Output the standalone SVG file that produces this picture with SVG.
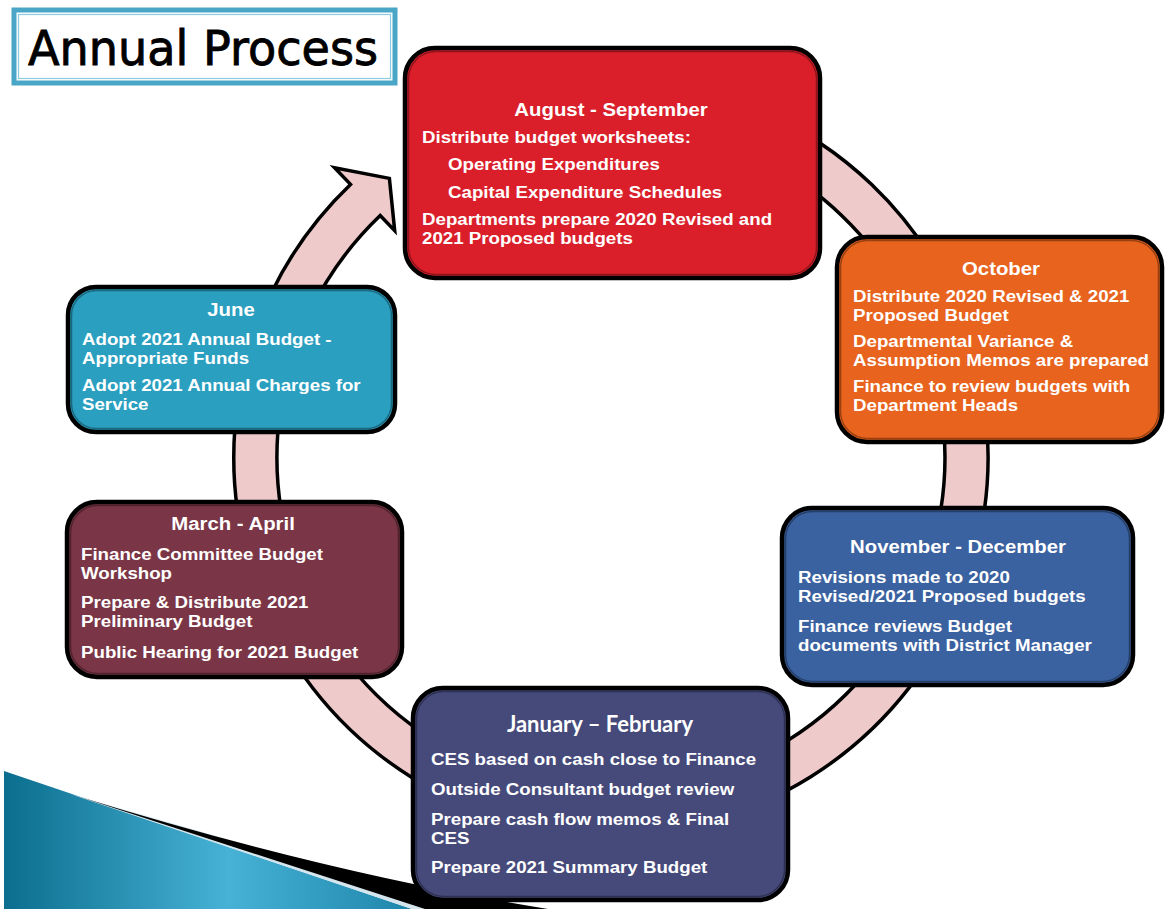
<svg xmlns="http://www.w3.org/2000/svg" width="1165" height="909" viewBox="0 0 1165 909">
<defs>
<style>
.box{stroke:#000;stroke-width:4.5}
.inner{fill:none;stroke:#000;stroke-opacity:.35;stroke-width:1.5}
.hd{font-family:"Liberation Sans",Arial,sans-serif;font-weight:bold;font-size:18.5px;fill:#fff;text-anchor:middle}
.bd{font-family:"Liberation Sans",Arial,sans-serif;font-weight:bold;font-size:17px;fill:#fff}
.ring{fill:#efcaca;stroke:#000;stroke-width:3.5;stroke-linejoin:miter}
</style>
<linearGradient id="teal" x1="0" y1="0" x2="1" y2="0">
<stop offset="0" stop-color="#0b6e8e"/>
<stop offset="0.55" stop-color="#47b2d6"/>
<stop offset="1" stop-color="#1e86aa"/>
</linearGradient>
</defs>
<rect width="1165" height="909" fill="#fff"/>

<g id="decoration">
<path d="M4,771 L412,909 L4,909 Z" fill="url(#teal)"/>
<path d="M70,794 L470,909 L412,909 Z" fill="#d4e5ed"/>
<path d="M80,797 Q330,874 548,909 L425,909 Z" fill="#000"/>
</g>

<g id="connectors">
<path class="ring" d="M482.1,102.7 A377,377 0 0 1 810.8,776.7 A377,377 0 0 1 350.5,184.4 L334.6,167.8 L389.4,178.4 L394.7,230.7 L380.2,215.5 A334,334 0 0 0 788,740.2 A334,334 0 0 0 496.8,143.1 Z"/>
</g>

<g id="title">
<rect x="14" y="10" width="381" height="73" fill="#fff" stroke="#4aa6c7" stroke-width="5"/>
<rect x="18.5" y="14.5" width="372" height="64" fill="none" stroke="#8ccbe0" stroke-width="1.2"/>
<text x="28" y="65" font-family="DejaVu Sans, sans-serif" font-size="48" fill="#000" stroke="#000" stroke-width="0.9" textLength="350" lengthAdjust="spacingAndGlyphs">Annual Process</text>
</g>

<g id="aug-sep">
<rect class="box" x="405" y="48" width="415" height="230" rx="30" fill="#da1f2b"/>
<rect class="inner" x="408.5" y="51.5" width="408" height="223" rx="27"/>
<text class="hd" transform="translate(611,116) scale(1.1,1)">August - September</text>
<text class="bd" transform="translate(422,143) scale(1.1,1)">Distribute budget worksheets:</text>
<text class="bd" transform="translate(448,170) scale(1.1,1)">Operating Expenditures</text>
<text class="bd" transform="translate(448,198) scale(1.1,1)">Capital Expenditure Schedules</text>
<text class="bd" transform="translate(422,225) scale(1.1,1)">Departments prepare 2020 Revised and</text>
<text class="bd" transform="translate(422,244) scale(1.1,1)">2021 Proposed budgets</text>
</g>

<g id="october">
<rect class="box" x="837" y="237" width="325" height="205" rx="30" fill="#e8631d"/>
<rect class="inner" x="840.5" y="240.5" width="318" height="198" rx="27"/>
<text class="hd" transform="translate(1001,275) scale(1.1,1)">October</text>
<text class="bd" transform="translate(853,302) scale(1.1,1)">Distribute 2020 Revised &amp; 2021</text>
<text class="bd" transform="translate(853,321) scale(1.1,1)">Proposed Budget</text>
<text class="bd" transform="translate(853,347) scale(1.1,1)">Departmental Variance &amp;</text>
<text class="bd" transform="translate(853,366) scale(1.1,1)">Assumption Memos are prepared</text>
<text class="bd" transform="translate(853,392) scale(1.1,1)">Finance to review budgets with</text>
<text class="bd" transform="translate(853,411) scale(1.1,1)">Department Heads</text>
</g>

<g id="nov-dec">
<rect class="box" x="782" y="508" width="351" height="177" rx="30" fill="#3a61a0"/>
<rect class="inner" x="785.5" y="511.5" width="344" height="170" rx="27"/>
<text class="hd" transform="translate(958,553) scale(1.1,1)">November - December</text>
<text class="bd" transform="translate(798,583) scale(1.1,1)">Revisions made to 2020</text>
<text class="bd" transform="translate(798,602) scale(1.1,1)">Revised/2021 Proposed budgets</text>
<text class="bd" transform="translate(798,632) scale(1.1,1)">Finance reviews Budget</text>
<text class="bd" transform="translate(798,651) scale(1.1,1)">documents with District Manager</text>
</g>

<g id="jan-feb">
<rect class="box" x="413" y="688" width="375" height="212" rx="30" fill="#464a7b"/>
<rect class="inner" x="416.5" y="691.5" width="368" height="205" rx="27"/>
<text x="600" y="732" font-family="Lato, sans-serif" font-weight="bold" font-size="22" fill="#fff" text-anchor="middle">January – February</text>
<text class="bd" transform="translate(431,765) scale(1.1,1)">CES based on cash close to Finance</text>
<text class="bd" transform="translate(431,795) scale(1.1,1)">Outside Consultant budget review</text>
<text class="bd" transform="translate(431,825) scale(1.1,1)">Prepare cash flow memos &amp; Final</text>
<text class="bd" transform="translate(431,844) scale(1.1,1)">CES</text>
<text class="bd" transform="translate(431,873) scale(1.1,1)">Prepare 2021 Summary Budget</text>
</g>

<g id="mar-apr">
<rect class="box" x="67" y="502" width="335" height="175" rx="30" fill="#7a3646"/>
<rect class="inner" x="70.5" y="505.5" width="328" height="168" rx="27"/>
<text class="hd" transform="translate(233,530) scale(1.1,1)">March - April</text>
<text class="bd" transform="translate(81,560) scale(1.1,1)">Finance Committee Budget</text>
<text class="bd" transform="translate(81,579) scale(1.1,1)">Workshop</text>
<text class="bd" transform="translate(81,608) scale(1.1,1)">Prepare &amp; Distribute 2021</text>
<text class="bd" transform="translate(81,627) scale(1.1,1)">Preliminary Budget</text>
<text class="bd" transform="translate(81,658) scale(1.1,1)">Public Hearing for 2021 Budget</text>
</g>

<g id="june">
<rect class="box" x="68" y="287" width="327" height="145" rx="28" fill="#2a9fc0"/>
<rect class="inner" x="71.5" y="290.5" width="320" height="138" rx="25"/>
<text class="hd" transform="translate(231,316) scale(1.1,1)">June</text>
<text class="bd" transform="translate(82,345) scale(1.1,1)">Adopt 2021 Annual Budget -</text>
<text class="bd" transform="translate(82,364) scale(1.1,1)">Appropriate Funds</text>
<text class="bd" transform="translate(82,391) scale(1.1,1)">Adopt 2021 Annual Charges for</text>
<text class="bd" transform="translate(82,410) scale(1.1,1)">Service</text>
</g>
</svg>
